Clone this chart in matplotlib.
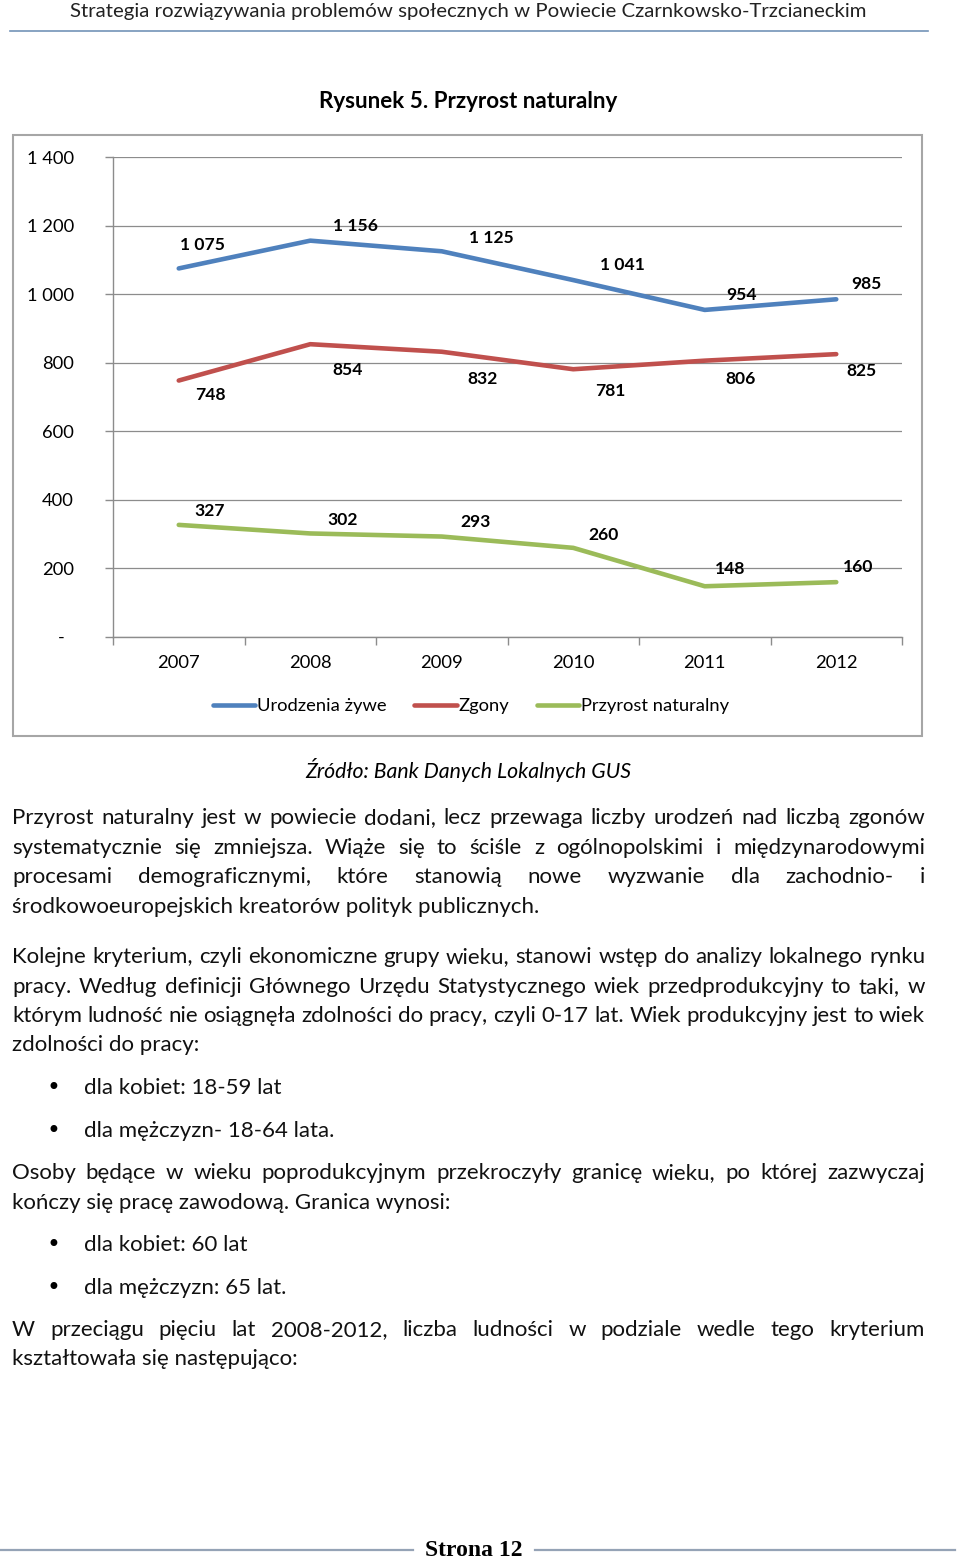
import numpy as np
import matplotlib.pyplot as plt
from matplotlib.patches import Rectangle
from matplotlib.lines import Line2D

# dane z wykresu
lata = ['2007', '2008', '2009', '2010', '2011', '2012']
urodzenia = [1075, 1156, 1125, 1041, 954, 985]
zgony = [748, 854, 832, 781, 806, 825]
przyrost = [327, 302, 293, 260, 148, 160]
y_ticks = [0, 200, 400, 600, 800, 1000, 1200, 1400]
y_labels = ['-  ', '200', '400', '600', '800', '1 000', '1 200', '1 400']

# przesunięcia etykiet (piksele)
off_ur = [(24, 23), (45, 15), (50, 13), (49, 15), (37, 15), (30, 15)]
off_zg = [(32, -14), (37, -26), (41, -27), (37, -22), (36, -18), (25, -17)]
off_pr = [(31, 14), (32, 13), (34, 15), (30, 13), (25, 17), (22, 15)]

FONT = 'Lato'
W, H = 960, 1562
BODY = 16
CH = 13.2  # czcionka wykresu

fig = plt.figure(figsize=(W / 100, H / 100), dpi=100)
fx = lambda x: x / W
fy = lambda y: 1 - y / H

# nagłówek
fig.text(fx(468), fy(12), 'Strategia rozwiązywania problemów społecznych w Powiecie Czarnkowsko-Trzcianeckim',
         ha='center', va='center', fontsize=14.7, family=FONT, color='#222222')
fig.add_artist(Line2D([fx(10), fx(928)], [fy(31), fy(31)], color='#7393b8', lw=1.2))

fig.text(fx(468), fy(101), 'Rysunek 5. Przyrost naturalny', ha='center', va='center',
         fontsize=16.1, fontweight='bold', family=FONT, color='black')

# ramka wykresu
fig.add_artist(Rectangle((fx(13), fy(736)), (922 - 13) / W, (736 - 135) / H, transform=fig.transFigure,
                         fill=False, edgecolor='#a6a6a6', lw=1.5))

ax = fig.add_axes([fx(113), fy(637), (902 - 113) / W, (637 - 157) / H])
x = np.arange(len(lata))
colors = ['#4f81bd', '#c0504d', '#9bbb59']
names = ['Urodzenia żywe', 'Zgony', 'Przyrost naturalny']
for vals, offs, c, n in zip([urodzenia, zgony, przyrost], [off_ur, off_zg, off_pr], colors, names):
    ax.plot(x, vals, color=c, lw=3.3, solid_capstyle='round', solid_joinstyle='round', label=n)
    for xi, v, (dx, dy) in zip(x, vals, offs):
        ax.annotate(f'{v:,}'.replace(',', ' '), (xi, v), xytext=(dx, dy), textcoords='offset pixels',
                    ha='center', va='center', fontsize=12.6, fontweight='bold', family=FONT)

ax.set_xlim(-0.5, 5.5)
ax.set_ylim(0, 1400)
ax.set_yticks(y_ticks)
ax.set_yticklabels(y_labels)
ax.set_xticks(x)
ax.set_xticklabels(lata)
ax.set_xticks(np.arange(-0.5, 6, 1), minor=True)
ax.tick_params(axis='x', which='major', length=0, pad=13, labelsize=CH)
ax.tick_params(axis='x', which='minor', length=6, width=1, color='#8c8c8c', direction='out')
ax.tick_params(axis='y', length=6, width=1, color='#8c8c8c', pad=22, labelsize=CH)
for lab in ax.get_xticklabels() + ax.get_yticklabels():
    lab.set_family(FONT)
ax.grid(axis='y', color='#8c8c8c', lw=0.9)
ax.set_axisbelow(True)
for s in ['top', 'right']:
    ax.spines[s].set_visible(False)
for s in ['left', 'bottom']:
    ax.spines[s].set_color('#8c8c8c')
    ax.spines[s].set_linewidth(1)

ax.legend(loc='center', bbox_to_anchor=(fx(471), fy(706)), bbox_transform=fig.transFigure, ncol=3,
          frameon=False, handlelength=2.3, handletextpad=0.1, columnspacing=1.5,
          prop={'family': FONT, 'size': CH})

fig.text(fx(468), fy(770), 'Źródło: Bank Danych Lokalnych GUS', ha='center', va='center',
         fontsize=15.3, style='italic', family=FONT)

# tekst
renderer = fig.canvas.get_renderer()
X0, X1 = 12, 925


def line(txt, y, just=True, x0=X0):
    if not just:
        fig.text(fx(x0), fy(y), txt, ha='left', va='center', fontsize=BODY, family=FONT, color='#111111')
        return
    words = txt.split(' ')
    ts = [fig.text(0, fy(y), w, ha='left', va='center', fontsize=BODY, family=FONT, color='#111111')
          for w in words]
    ws = [t.get_window_extent(renderer).width for t in ts]
    gap = (X1 - x0 - sum(ws)) / (len(ws) - 1)
    xx = x0
    for t, w in zip(ts, ws):
        t.set_x(fx(xx))
        xx += w + gap


def bullet(txt, y):
    fig.text(fx(53), fy(y), '•', ha='center', va='center', fontsize=17, family='DejaVu Sans')
    line(txt, y, False, 84)


line('Przyrost naturalny jest w powiecie dodani, lecz przewaga liczby urodzeń nad liczbą zgonów', 818)
line('systematycznie się zmniejsza. Wiąże się to ściśle z ogólnopolskimi i międzynarodowymi', 848)
line('procesami demograficznymi, które stanowią nowe wyzwanie dla zachodnio- i', 877)
line('środkowoeuropejskich kreatorów polityk publicznych.', 907, False)

line('Kolejne kryterium, czyli ekonomiczne grupy wieku, stanowi wstęp do analizy lokalnego rynku', 957)
line('pracy. Według definicji Głównego Urzędu Statystycznego wiek przedprodukcyjny to taki, w', 987)
line('którym ludność nie osiągnęła zdolności do pracy, czyli 0-17 lat. Wiek produkcyjny jest to wiek', 1016)
line('zdolności do pracy:', 1045, False)

bullet('dla kobiet: 18-59 lat', 1088)
bullet('dla mężczyzn- 18-64 lata.', 1131)

line('Osoby będące w wieku poprodukcyjnym przekroczyły granicę wieku, po której zazwyczaj', 1173)
line('kończy się pracę zawodową. Granica wynosi:', 1203, False)

bullet('dla kobiet: 60 lat', 1245)
bullet('dla mężczyzn: 65 lat.', 1288)

line('W przeciągu pięciu lat 2008-2012, liczba ludności w podziale wedle tego kryterium', 1330)
line('kształtowała się następująco:', 1359, False)

# stopka
fig.add_artist(Line2D([fx(0), fx(413)], [fy(1550), fy(1550)], color='#95a3b6', lw=1.6))
fig.add_artist(Line2D([fx(535), fx(955)], [fy(1550), fy(1550)], color='#95a3b6', lw=1.6))
fig.text(fx(474), fy(1551), 'Strona 12', ha='center', va='center', fontsize=17, fontweight='bold',
         family='Liberation Serif')

fig.savefig('out.png', dpi=100)
